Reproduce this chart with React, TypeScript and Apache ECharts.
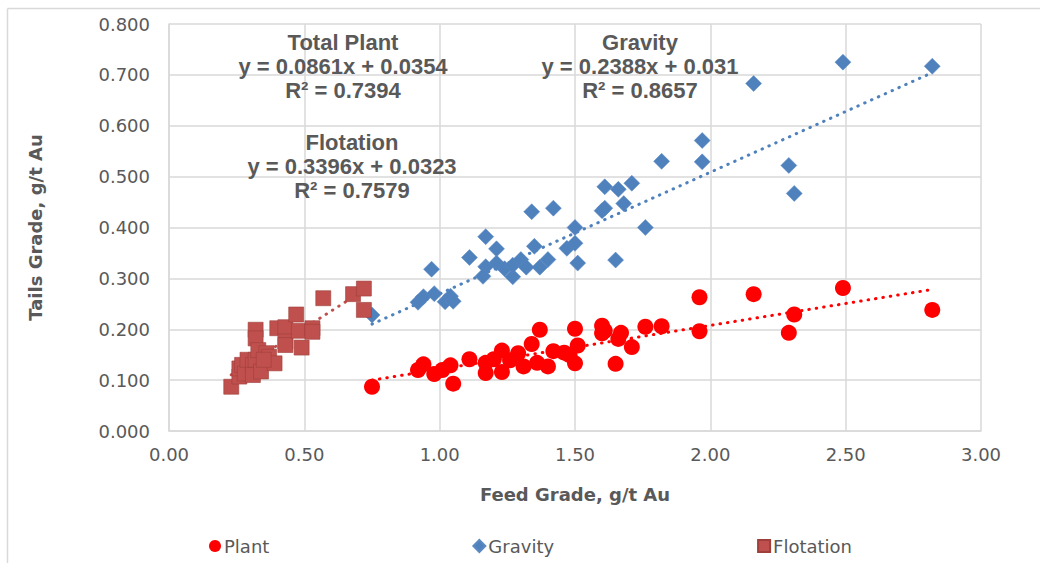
import React, { useEffect, useRef } from "react";
import * as echarts from "echarts";

const plantData: number[][] = [
  [0.75, 0.087], [0.92, 0.120], [0.94, 0.131], [0.98, 0.112], [1.01, 0.120], [1.04, 0.129],
  [1.05, 0.093], [1.11, 0.141], [1.17, 0.134], [1.17, 0.114], [1.20, 0.141], [1.23, 0.158],
  [1.23, 0.116], [1.26, 0.139], [1.29, 0.153], [1.31, 0.127], [1.34, 0.171], [1.37, 0.199],
  [1.36, 0.134], [1.40, 0.127], [1.42, 0.157], [1.46, 0.154], [1.48, 0.149], [1.50, 0.201],
  [1.51, 0.168], [1.50, 0.133], [1.60, 0.207], [1.60, 0.192], [1.61, 0.197], [1.65, 0.132],
  [1.67, 0.193], [1.66, 0.181], [1.71, 0.165], [1.76, 0.205], [1.82, 0.206], [1.96, 0.263],
  [1.96, 0.196], [2.16, 0.269], [2.29, 0.193], [2.31, 0.229], [2.49, 0.281], [2.82, 0.238],
];

const gravityData: number[][] = [
  [0.75, 0.228], [0.92, 0.253], [0.94, 0.264], [0.98, 0.270], [1.02, 0.254], [1.04, 0.265],
  [1.05, 0.255], [0.97, 0.318], [1.11, 0.341], [1.17, 0.382], [1.21, 0.358], [1.17, 0.323],
  [1.16, 0.304], [1.21, 0.330], [1.24, 0.319], [1.27, 0.303], [1.27, 0.326], [1.30, 0.337],
  [1.32, 0.322], [1.35, 0.363], [1.34, 0.431], [1.42, 0.438], [1.37, 0.322], [1.40, 0.337],
  [1.47, 0.359], [1.50, 0.369], [1.50, 0.400], [1.51, 0.330], [1.60, 0.433], [1.61, 0.438],
  [1.61, 0.480], [1.66, 0.475], [1.68, 0.447], [1.71, 0.487], [1.65, 0.336], [1.76, 0.400],
  [1.82, 0.530], [1.97, 0.529], [1.97, 0.571], [2.16, 0.683], [2.29, 0.522], [2.31, 0.467],
  [2.49, 0.725], [2.82, 0.717],
];

const flotationData: number[][] = [
  [0.23, 0.087], [0.26, 0.107], [0.26, 0.123], [0.27, 0.130], [0.28, 0.113], [0.29, 0.140],
  [0.31, 0.130], [0.31, 0.110], [0.32, 0.140], [0.32, 0.199], [0.32, 0.182], [0.33, 0.159],
  [0.34, 0.117], [0.36, 0.153], [0.37, 0.146], [0.39, 0.133], [0.40, 0.202], [0.43, 0.204],
  [0.43, 0.176], [0.43, 0.169], [0.47, 0.229], [0.48, 0.197], [0.49, 0.164], [0.53, 0.202],
  [0.53, 0.195], [0.57, 0.261], [0.68, 0.269], [0.72, 0.280], [0.72, 0.238], [0.35, 0.140],
];

const xTicks = ["0.00", "0.50", "1.00", "1.50", "2.00", "2.50", "3.00"];
const yTicks = ["0.000", "0.100", "0.200", "0.300", "0.400", "0.500", "0.600", "0.700", "0.800"];

// trendline coefficients from the chart annotations: [slope, intercept]
const plantFit = [0.0861, 0.0354];
const gravityFit = [0.2388, 0.031];
const flotationFit = [0.3396, 0.0323];

const plantLabel = ["Total Plant", "y = 0.0861x + 0.0354", "R² = 0.7394"];
const gravityLabel = ["Gravity", "y = 0.2388x + 0.031", "R² = 0.8657"];
const flotationLabel = ["Flotation", "y = 0.3396x + 0.0323", "R² = 0.7579"];

const seriesNames = ["Plant", "Gravity", "Flotation"];

function trend(data: number[][], fit: number[]) {
  const xs = data.map((d) => d[0]);
  const lo = Math.min(...xs);
  const hi = Math.max(...xs);
  return [
    [lo, fit[0] * lo + fit[1]],
    [hi, fit[0] * hi + fit[1]],
  ];
}

const AXIS_FONT = "'DejaVu Sans', sans-serif";
const ANNO_FONT = "'Liberation Sans', Arial, sans-serif";
const GREY = "#595959";

export default function App() {
  const ref = useRef<HTMLDivElement>(null);
  useEffect(() => {
    if (!ref.current) return;
    const chart = echarts.init(ref.current, undefined, { renderer: "svg" });
    const dotted = (color: string) => ({
      color,
      width: 3,
      type: [0.5, 7] as number[],
      cap: "round" as const,
    });
    const annoBlock = (lines: string[], cx: number, top: number) =>
      lines.map((t, i) => ({
        type: "text",
        x: cx,
        y: top + i * 24,
        z: 100,
        style: {
          text: t,
          textAlign: "center",
          textVerticalAlign: "middle",
          fontSize: 22,
          fontWeight: "bold",
          fontFamily: ANNO_FONT,
          fill: GREY,
        },
      }));
    chart.setOption({
      animation: false,
      backgroundColor: "#ffffff",
      grid: { left: 169, right: 59, top: 24, bottom: 132, containLabel: false },
      xAxis: {
        type: "value",
        min: 0,
        max: 3,
        interval: 0.5,
        name: "Feed Grade, g/t Au",
        nameLocation: "middle",
        nameGap: 54,
        nameTextStyle: { fontFamily: AXIS_FONT, fontSize: 18, fontWeight: "bold", color: GREY },
        axisLine: { show: true, lineStyle: { color: "#D9D9D9", width: 1.5 } },
        axisTick: { show: false },
        axisLabel: {
          margin: 14,
          fontFamily: AXIS_FONT,
          fontSize: 18,
          color: GREY,
          formatter: (v: number) => xTicks[Math.round(v / 0.5)] ?? v.toFixed(2),
        },
        splitLine: { show: true, lineStyle: { color: "#D9D9D9", width: 1.5 } },
      },
      yAxis: {
        type: "value",
        min: 0,
        max: 0.8,
        interval: 0.1,
        name: "Tails Grade, g/t Au",
        nameLocation: "middle",
        nameGap: 125,
        nameTextStyle: { fontFamily: AXIS_FONT, fontSize: 18, fontWeight: "bold", color: GREY },
        axisLine: { show: true, lineStyle: { color: "#D9D9D9", width: 1.5 } },
        axisTick: { show: false },
        axisLabel: {
          margin: 19,
          fontFamily: AXIS_FONT,
          fontSize: 18,
          color: GREY,
          formatter: (v: number) => yTicks[Math.round(v / 0.1)] ?? v.toFixed(3),
        },
        splitLine: { show: true, lineStyle: { color: "#D9D9D9", width: 1.5 } },
      },
      legend: {
        data: [
          { name: seriesNames[0], icon: "circle" },
          { name: seriesNames[1], icon: "diamond" },
          { name: seriesNames[2], icon: "rect" },
        ],
        left: 204,
        top: 532,
        itemGap: 203,
        itemWidth: 12,
        itemHeight: 12,
        textStyle: { fontFamily: AXIS_FONT, fontSize: 18, color: GREY, padding: [0, 0, 0, -2] },
      },
      graphic: [
        { type: "line", shape: { x1: 7.5, y1: 8.5, x2: 1040, y2: 8.5 }, style: { stroke: "#D9D9D9", lineWidth: 1.5 } },
        { type: "line", shape: { x1: 7.5, y1: 8.5, x2: 7.5, y2: 563 }, style: { stroke: "#D9D9D9", lineWidth: 1.5 } },
        ...annoBlock(plantLabel, 343, 42),
        ...annoBlock(flotationLabel, 352, 142),
        ...annoBlock(gravityLabel, 640, 42),
      ],
      series: [
        {
          name: "Plant trend",
          type: "line",
          data: trend(plantData, plantFit),
          showSymbol: false,
          symbol: "none",
          lineStyle: dotted("#FF0000"),
          z: 1,
          silent: true,
        },
        {
          name: "Gravity trend",
          type: "line",
          data: trend(gravityData, gravityFit),
          showSymbol: false,
          symbol: "none",
          lineStyle: dotted("#4F81BD"),
          z: 1,
          silent: true,
        },
        {
          name: "Flotation trend",
          type: "line",
          data: trend(flotationData, flotationFit),
          showSymbol: false,
          symbol: "none",
          lineStyle: dotted("#C0504D"),
          z: 1,
          silent: true,
        },
        {
          name: seriesNames[0],
          type: "scatter",
          data: plantData,
          symbol: "circle",
          symbolSize: 16,
          itemStyle: { color: "#FF0000", opacity: 1 },
          z: 3,
        },
        {
          name: seriesNames[1],
          type: "scatter",
          data: gravityData,
          symbol: "diamond",
          symbolSize: 16,
          itemStyle: { color: "#4F81BD", opacity: 1, borderColor: "#5B8AC2", borderWidth: 0.5 },
          z: 3,
        },
        {
          name: seriesNames[2],
          type: "scatter",
          data: flotationData,
          symbol: "rect",
          symbolSize: 15,
          itemStyle: { color: "#C0504D", opacity: 1, borderColor: "#9E3F3C", borderWidth: 0.6 },
          z: 3,
        },
      ],
    });
    return () => chart.dispose();
  }, []);
  return (
    <div
      ref={ref}
      style={{ position: "absolute", left: 0, top: 0, width: 1040, height: 563 }}
    />
  );
}
